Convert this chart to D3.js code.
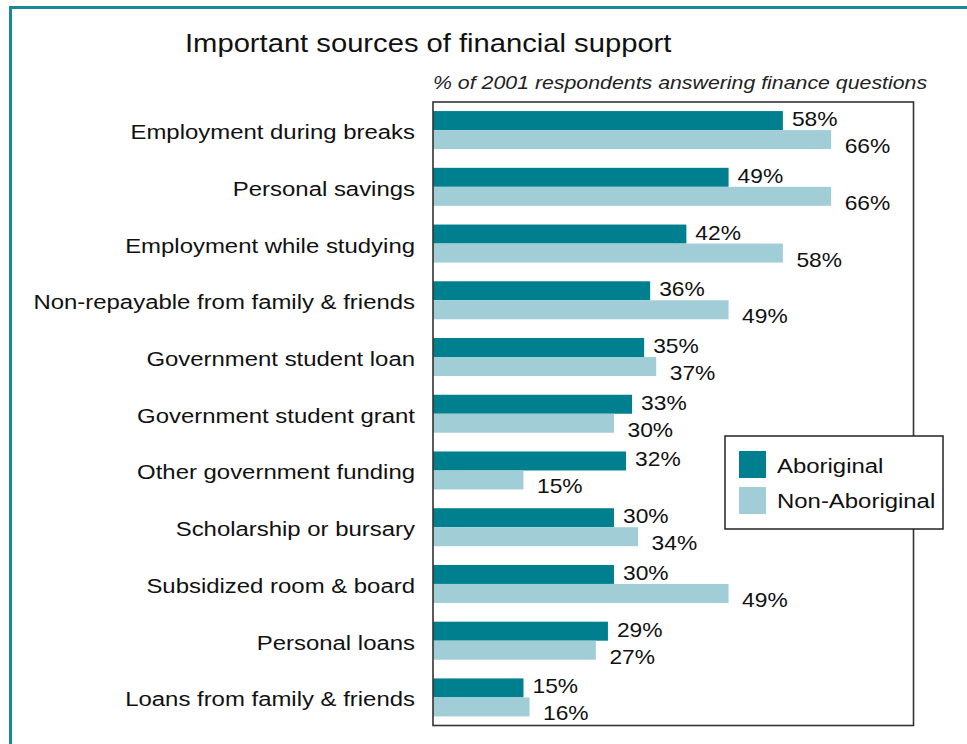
<!DOCTYPE html>
<html>
<head>
<meta charset="utf-8">
<script src="https://cdn.jsdelivr.net/npm/d3@7/dist/d3.min.js"></script>
<style>
  html, body { margin: 0; padding: 0; background: #fff; }
  svg { display: block; }
  text { font-family: "Liberation Sans", Arial, Helvetica, sans-serif; fill: #111; }
</style>
</head>
<body>
<svg id="chart" width="967" height="744"></svg>
<script>
// Sources of financial support, share of respondents (%)
const categories = [
  "Employment during breaks",
  "Personal savings",
  "Employment while studying",
  "Non-repayable from family & friends",
  "Government student loan",
  "Government student grant",
  "Other government funding",
  "Scholarship or bursary",
  "Subsidized room & board",
  "Personal loans",
  "Loans from family & friends"
];
const aboriginal    = [58, 49, 42, 36, 35, 33, 32, 30, 30, 29, 15];
const nonAboriginal = [66, 66, 58, 49, 37, 30, 15, 34, 49, 27, 16];
const seriesNames   = ["Aboriginal", "Non-Aboriginal"];
const seriesColors  = ["#00808e", "#a1ced6"];
const titleText     = "Important sources of financial support";
const subtitleText  = "% of 2001 respondents answering finance questions";

const svg = d3.select("#chart");
const SX = 1.14; // horizontal stretch of the lettering

// text helper: places text at (x, y) with a slight horizontal stretch
function label(parent, x, y, str, size, anchor, italic) {
  return parent.append("text")
    .attr("transform", `translate(${x},${y}) scale(${SX},1)`)
    .attr("font-size", size)
    .attr("text-anchor", anchor || "start")
    .attr("font-style", italic ? "italic" : "normal")
    .text(str);
}

// outer frame (left and top rules)
svg.append("path")
  .attr("d", "M10.5,744 L10.5,7.5 L967,7.5")
  .attr("fill", "none")
  .attr("stroke", "#17899a")
  .attr("stroke-width", 3);

const plot = { left: 433, top: 102, right: 913.5, bottom: 725.5 };

const x = d3.scaleLinear()
  .domain([0, 79.65])
  .range([plot.left, plot.right]);

const y = d3.scaleBand()
  .domain(categories)
  .range([plot.top, plot.bottom])
  .paddingInner(0.33)
  .paddingOuter(0.16);

const ySub = d3.scaleBand()
  .domain(seriesNames)
  .range([0, y.bandwidth()]);

// titles
label(svg, 185, 52, titleText, 25.6, "start");
label(svg, 433, 89, subtitleText, 18.7, "start", true).style("fill", "#222");

// bars
const rows = categories.map((c, i) => ({ cat: c, vals: [aboriginal[i], nonAboriginal[i]] }));

const groups = svg.append("g").selectAll("g")
  .data(rows)
  .join("g")
  .attr("transform", d => `translate(0,${y(d.cat)})`);

groups.selectAll("rect")
  .data(d => d.vals.map((v, k) => ({ v, k })))
  .join("rect")
  .attr("x", x(0))
  .attr("y", d => ySub(seriesNames[d.k]))
  .attr("width", d => x(d.v) - x(0))
  .attr("height", ySub.bandwidth())
  .attr("fill", d => seriesColors[d.k]);

// value labels
groups.each(function (d) {
  const g = d3.select(this);
  d.vals.forEach((v, k) => {
    const top = ySub(seriesNames[k]);
    const dx = k === 0 ? 9 : 13.5;
    const dy = k === 0 ? 15 : 23;
    label(g, x(v) + dx, top + dy, v + "%", 20, "start");
  });
});

// category labels
categories.forEach(c => {
  label(svg, 415, y(c) + y.bandwidth() / 2 + 9, c, 21, "end");
});

// plot frame
svg.append("rect")
  .attr("x", plot.left)
  .attr("y", plot.top)
  .attr("width", plot.right - plot.left)
  .attr("height", plot.bottom - plot.top)
  .attr("fill", "none")
  .attr("stroke", "#333")
  .attr("stroke-width", 1.6);

// legend
const legend = svg.append("g");
legend.append("rect")
  .attr("x", 725).attr("y", 436)
  .attr("width", 218).attr("height", 93)
  .attr("fill", "#fff")
  .attr("stroke", "#222")
  .attr("stroke-width", 1.5);

seriesNames.forEach((name, k) => {
  legend.append("rect")
    .attr("x", 739).attr("y", 451 + k * 36)
    .attr("width", 27).attr("height", 27)
    .attr("fill", seriesColors[k]);
  label(legend, 777, 473 + k * 34.5, name, 21, "start");
});
</script>
</body>
</html>
